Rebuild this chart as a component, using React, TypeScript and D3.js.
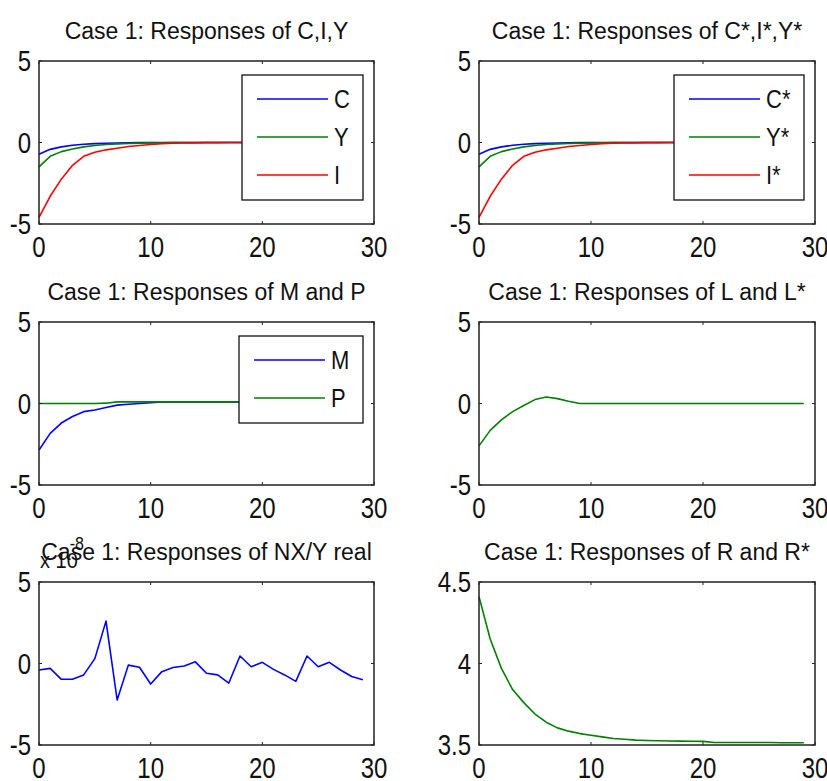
import React, { useEffect, useRef } from "react";
import * as d3 from "d3";

// periods of the impulse responses
const periods = [0, 1, 2, 3, 4, 5, 6, 7, 8, 9, 10, 11, 12, 13, 14, 15, 16, 17, 18, 19, 20, 21, 22, 23, 24, 25, 26, 27, 28, 29];

const respC = [-0.72, -0.42, -0.27, -0.17, -0.11, -0.07, -0.05, -0.03, -0.02, -0.01, -0.005, -0.003, -0.002, -0.001, 0, 0, 0, 0, 0, 0, 0, 0, 0, 0, 0, 0, 0, 0, 0, 0];
const respY = [-1.5, -0.85, -0.56, -0.4, -0.27, -0.18, -0.12, -0.09, -0.06, -0.04, -0.03, -0.02, -0.01, -0.005, -0.002, 0, 0, 0, 0, 0, 0, 0, 0, 0, 0, 0, 0, 0, 0, 0];
const respI = [-4.6, -3.3, -2.25, -1.4, -0.85, -0.6, -0.45, -0.35, -0.25, -0.18, -0.12, -0.08, -0.05, -0.03, -0.02, -0.01, -0.005, 0, 0, 0, 0, 0, 0, 0, 0, 0, 0, 0, 0, 0];

const respCStar = [-0.72, -0.42, -0.27, -0.17, -0.11, -0.07, -0.05, -0.03, -0.02, -0.01, -0.005, -0.003, -0.002, -0.001, 0, 0, 0, 0, 0, 0, 0, 0, 0, 0, 0, 0, 0, 0, 0, 0];
const respYStar = [-1.5, -0.85, -0.56, -0.4, -0.27, -0.18, -0.12, -0.09, -0.06, -0.04, -0.03, -0.02, -0.01, -0.005, -0.002, 0, 0, 0, 0, 0, 0, 0, 0, 0, 0, 0, 0, 0, 0, 0];
const respIStar = [-4.6, -3.3, -2.25, -1.4, -0.85, -0.6, -0.45, -0.35, -0.25, -0.18, -0.12, -0.08, -0.05, -0.03, -0.02, -0.01, -0.005, 0, 0, 0, 0, 0, 0, 0, 0, 0, 0, 0, 0, 0];

const respM = [-2.85, -1.83, -1.2, -0.8, -0.5, -0.4, -0.25, -0.1, -0.05, 0.0, 0.05, 0.1, 0.1, 0.1, 0.1, 0.1, 0.1, 0.1, 0.1, 0.1, 0.1, 0.1, 0.1, 0.1, 0.1, 0.1, 0.1, 0.1, 0.1, 0.1];
const respP = [0, 0, 0, 0, 0, 0, 0.02, 0.1, 0.1, 0.1, 0.1, 0.1, 0.1, 0.1, 0.1, 0.1, 0.1, 0.1, 0.1, 0.1, 0.1, 0.1, 0.1, 0.1, 0.1, 0.1, 0.1, 0.1, 0.1, 0.1];

const respL = [-2.6, -1.65, -1.0, -0.5, -0.12, 0.24, 0.4, 0.3, 0.14, 0.0, 0, 0, 0, 0, 0, 0, 0, 0, 0, 0, 0, 0, 0, 0, 0, 0, 0, 0, 0, 0];

// NX/Y real, in units of 1e-8
const respNX = [-0.4, -0.3, -0.97, -0.97, -0.7, 0.3, 2.6, -2.24, -0.1, -0.23, -1.26, -0.5, -0.25, -0.15, 0.1, -0.6, -0.7, -1.2, 0.46, -0.2, 0.07, -0.36, -0.7, -1.1, 0.46, -0.2, 0.07, -0.4, -0.8, -1.0];

const respR = [4.41, 4.15, 3.97, 3.84, 3.76, 3.69, 3.64, 3.605, 3.585, 3.57, 3.56, 3.55, 3.54, 3.535, 3.53, 3.528, 3.526, 3.525, 3.524, 3.523, 3.522, 3.515, 3.515, 3.515, 3.515, 3.515, 3.515, 3.514, 3.514, 3.514];

const xTicks = [0, 10, 20, 30];
const yTicksResp = [-5, 0, 5];
const yTicksR = [3.5, 4, 4.5];
const yTickLabelsR = ["3.5", "4", "4.5"];

const BLUE = "#0000ff";
const GREEN = "#008000";
const RED = "#ff0000";

const panels = [
  {
    title: "Case 1: Responses of C,I,Y",
    col: 0, row: 0, yDomain: [-5, 5], yTicks: yTicksResp, yLabels: null,
    series: [
      { values: respC, color: BLUE, label: "C" },
      { values: respY, color: GREEN, label: "Y" },
      { values: respI, color: RED, label: "I" },
    ],
    legendWidth: 121,
  },
  {
    title: "Case 1: Responses of C*,I*,Y*",
    col: 1, row: 0, yDomain: [-5, 5], yTicks: yTicksResp, yLabels: null,
    series: [
      { values: respCStar, color: BLUE, label: "C*" },
      { values: respYStar, color: GREEN, label: "Y*" },
      { values: respIStar, color: RED, label: "I*" },
    ],
    legendWidth: 130,
  },
  {
    title: "Case 1: Responses of M and P",
    col: 0, row: 1, yDomain: [-5, 5], yTicks: yTicksResp, yLabels: null,
    series: [
      { values: respM, color: BLUE, label: "M" },
      { values: respP, color: GREEN, label: "P" },
    ],
    legendWidth: 124,
  },
  {
    title: "Case 1: Responses of L and L*",
    col: 1, row: 1, yDomain: [-5, 5], yTicks: yTicksResp, yLabels: null,
    series: [{ values: respL, color: GREEN, label: "L" }],
    legendWidth: 0,
  },
  {
    title: "Case 1: Responses of NX/Y real",
    col: 0, row: 2, yDomain: [-5, 5], yTicks: yTicksResp, yLabels: null,
    series: [{ values: respNX, color: BLUE, label: "NX/Y" }],
    legendWidth: 0,
    exponent: true,
  },
  {
    title: "Case 1: Responses of R and R*",
    col: 1, row: 2, yDomain: [3.5, 4.5], yTicks: yTicksR, yLabels: yTickLabelsR,
    series: [{ values: respR, color: GREEN, label: "R" }],
    legendWidth: 0,
  },
];

const colLeft = [39, 479];
const colRight = [374, 815];
const rowTop = [61, 322, 582];
const rowBottom = [224, 485, 745];

const FONT = "'Liberation Sans', Arial, Helvetica, sans-serif";

const App = () => {
  const ref = useRef(null);

  useEffect(() => {
    const svg = d3.select(ref.current);
    svg.selectAll("*").remove();

    const addText = (g, x, y, str, size, sy, anchor) =>
      g
        .append("text")
        .attr("transform", `translate(${x},${y}) scale(1,${sy})`)
        .attr("text-anchor", anchor)
        .attr("font-family", FONT)
        .attr("font-size", size)
        .attr("fill", "#111")
        .text(str);

    panels.forEach((p) => {
      const left = colLeft[p.col];
      const right = colRight[p.col];
      const top = rowTop[p.row];
      const bottom = rowBottom[p.row];

      const x = d3.scaleLinear().domain([0, 30]).range([left, right]);
      const y = d3.scaleLinear().domain(p.yDomain).range([bottom, top]);

      const g = svg.append("g");

      // data lines
      const line = d3
        .line()
        .x((d, i) => x(periods[i]))
        .y((d) => y(d));

      p.series.forEach((s) => {
        g.append("path")
          .datum(s.values)
          .attr("d", line)
          .attr("fill", "none")
          .attr("stroke", s.color)
          .attr("stroke-width", 1.6)
          .attr("stroke-linejoin", "round");
      });

      // axes box
      g.append("rect")
        .attr("x", left)
        .attr("y", top)
        .attr("width", right - left)
        .attr("height", bottom - top)
        .attr("fill", "none")
        .attr("stroke", "#222")
        .attr("stroke-width", 1.5);

      // inward ticks on all four sides
      const tl = 3;
      xTicks.forEach((t) => {
        g.append("line").attr("x1", x(t)).attr("x2", x(t)).attr("y1", bottom).attr("y2", bottom - tl).attr("stroke", "#222");
        g.append("line").attr("x1", x(t)).attr("x2", x(t)).attr("y1", top).attr("y2", top + tl).attr("stroke", "#222");
        addText(g, x(t), bottom + 33, String(t), 24, 1.2, "middle");
      });
      p.yTicks.forEach((t, i) => {
        g.append("line").attr("x1", left).attr("x2", left + tl).attr("y1", y(t)).attr("y2", y(t)).attr("stroke", "#222");
        g.append("line").attr("x1", right).attr("x2", right - tl).attr("y1", y(t)).attr("y2", y(t)).attr("stroke", "#222");
        const lab = p.yLabels ? p.yLabels[i] : String(t);
        addText(g, left - 8, y(t) + 10, lab, 24, 1.2, "end");
      });

      // title
      addText(g, (left + right) / 2, top - 22, p.title, 23, 1.08, "middle");

      if (p.exponent) {
        addText(g, left + 1, top - 14, "x 10", 20, 1.1, "start");
        addText(g, left + 45, top - 32, "-8", 16, 1.1, "end");
      }

      // legend
      if (p.legendWidth > 0) {
        const n = p.series.length;
        const lh = 24 + (n - 1) * 38 + 25;
        const lx = right - 11 - p.legendWidth;
        const ly = top + 14;
        const lg = g.append("g");
        lg.append("rect")
          .attr("x", lx)
          .attr("y", ly)
          .attr("width", p.legendWidth)
          .attr("height", lh)
          .attr("fill", "#fff")
          .attr("stroke", "#111")
          .attr("stroke-width", 1.3);
        p.series.forEach((s, i) => {
          const yy = ly + 24 + i * 38;
          lg.append("line")
            .attr("x1", lx + 15)
            .attr("x2", lx + 86)
            .attr("y1", yy)
            .attr("y2", yy)
            .attr("stroke", s.color)
            .attr("stroke-width", 1.6);
          addText(lg, lx + 92, yy + 9, s.label, 22, 1.2, "start");
        });
      }
    });
  }, []);

  return (
    <svg
      ref={ref}
      width={827}
      height={781}
      style={{ position: "absolute", left: 0, top: 0, background: "#fff" }}
    />
  );
};

export default App;
